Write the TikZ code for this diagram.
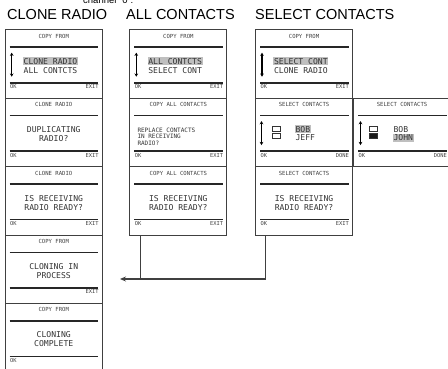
\documentclass[tikz,border=0pt]{standalone}
\usepackage{fontspec}
\setmainfont{Liberation Sans}
\newfontfamily\lcdfont{DejaVu Sans Mono}
\usetikzlibrary{arrows.meta}

\tikzset{
  screen/.style={draw=black!75, line width=1.1pt, minimum width=97pt,
    minimum height=68.4pt, anchor=north west, inner sep=0pt},
  lcdrule/.style={line width=1.6pt, black!85},
  lcdtitle/.style={font=\lcdfont\fontsize{5.6}{6.5}\selectfont, text=black!75,
    inner sep=0pt, text height=4pt, text depth=0pt},
  softkey/.style={font=\lcdfont\fontsize{5.4}{6.5}\selectfont, text=black!75,
    inner sep=0pt, text height=3.9pt, text depth=0pt},
  lcdtext/.style={font=\lcdfont\fontsize{8.1}{9}\selectfont, text=black!80,
    inner xsep=0.8pt, inner ysep=1pt, text height=5.9pt, text depth=0pt},
  smalltext/.style={font=\lcdfont\fontsize{6}{7}\selectfont, text=black!80,
    inner sep=0pt, text height=4.4pt, text depth=0pt, anchor=west},
  sel/.style={fill=black!25},
  updown/.style={line width=1.1pt,
    {Stealth[length=3.2pt,width=3.6pt]}-{Stealth[length=3.2pt,width=3.6pt]}},
  tickbox/.style={draw=black!80, line width=0.7pt, minimum width=8pt,
    minimum height=5pt, inner sep=0pt, anchor=north west},
  heading/.style={font=\fontsize{14.5}{16}\selectfont, inner sep=0pt, anchor=base west},
  conn/.style={draw=black!75, line width=1.1pt},
}

% screen frame: name, left, top, title
\newcommand{\lcdscreen}[4]{%
  \node[screen] (#1) at (#2,#3) {};
  \node[lcdtitle] (#1-title) at ([yshift=-7pt]#1.north) {#4};
  \draw[lcdrule] ([xshift=5pt,yshift=-18pt]#1.north west) -- ([xshift=-4.5pt,yshift=-18pt]#1.north east);
  \draw[lcdrule] ([xshift=5pt,yshift=-53.5pt]#1.north west) -- ([xshift=-4.5pt,yshift=-53.5pt]#1.north east);
}
\newcommand{\leftkey}[2]{%
  \node[softkey,anchor=west] (#1-lk) at ([xshift=5.3pt,yshift=-57.4pt]#1.north west) {#2};}
\newcommand{\rightkey}[2]{%
  \node[softkey,anchor=east] (#1-rk) at ([xshift=-4pt,yshift=-57.4pt]#1.north east) {#2};}
% centred message on two lines
\newcommand{\lcdmsg}[3]{%
  \node[lcdtext] (#1-l1) at ([yshift=-32pt]#1.north) {#2};
  \node[lcdtext] (#1-l2) at ([yshift=-41pt]#1.north) {#3};}
% scroll menu: selected item, other item
\newcommand{\lcdmenu}[3]{%
  \draw[updown] ([xshift=7pt,yshift=-23.4pt]#1.north west) -- ([xshift=7pt,yshift=-47.4pt]#1.north west);
  \node[lcdtext,sel,anchor=west] (#1-l1) at ([xshift=18pt,yshift=-32pt]#1.north west) {#2};
  \node[lcdtext,anchor=west] (#1-l2) at ([xshift=18pt,yshift=-41pt]#1.north west) {#3};}

\begin{document}
\begin{tikzpicture}[x=1pt,y=-1pt]
\useasboundingbox (0,0) rectangle (448,369);
\clip (0,0) rectangle (448,369);

% headings
\node[heading,font=\fontsize{9.5}{11}\selectfont] (prev) at (83,4) {channel “0”.};
\node[heading] (hclone) at (7,20) {CLONE RADIO};
\node[heading] (hall) at (126,20) {ALL CONTACTS};
\node[heading] (hsel) at (255,20) {SELECT CONTACTS};

% clone radio
\lcdscreen{c1r1}{4.7}{29.3}{COPY FROM}
\lcdmenu{c1r1}{CLONE RADIO}{ALL CONTCTS}
\leftkey{c1r1}{OK}\rightkey{c1r1}{EXIT}

\lcdscreen{c1r2}{4.7}{97.7}{CLONE RADIO}
\lcdmsg{c1r2}{DUPLICATING}{RADIO?}
\leftkey{c1r2}{OK}\rightkey{c1r2}{EXIT}

\lcdscreen{c1r3}{4.7}{166.1}{CLONE RADIO}
\lcdmsg{c1r3}{IS RECEIVING}{RADIO READY?}
\leftkey{c1r3}{OK}\rightkey{c1r3}{EXIT}

\lcdscreen{c1r4}{4.7}{234.5}{COPY FROM}
\lcdmsg{c1r4}{CLONING IN}{PROCESS}
\rightkey{c1r4}{EXIT}

\lcdscreen{c1r5}{4.7}{302.9}{COPY FROM}
\lcdmsg{c1r5}{CLONING}{COMPLETE}
\leftkey{c1r5}{OK}

% all contacts
\lcdscreen{c2r1}{129.3}{29.3}{COPY FROM}
\lcdmenu{c2r1}{ALL CONTCTS}{SELECT CONT}
\leftkey{c2r1}{OK}\rightkey{c2r1}{EXIT}

\lcdscreen{c2r2}{129.3}{97.7}{COPY ALL CONTACTS}
\node[smalltext] (c2r2-l1) at ([xshift=8pt,yshift=-32.3pt]c2r2.north west) {REPLACE CONTACTS};
\node[smalltext] (c2r2-l2) at ([xshift=8pt,yshift=-39pt]c2r2.north west) {IN RECEIVING};
\node[smalltext] (c2r2-l3) at ([xshift=8pt,yshift=-45.6pt]c2r2.north west) {RADIO?};
\leftkey{c2r2}{OK}\rightkey{c2r2}{EXIT}

\lcdscreen{c2r3}{129.3}{166.1}{COPY ALL CONTACTS}
\lcdmsg{c2r3}{IS RECEIVING}{RADIO READY?}
\leftkey{c2r3}{OK}\rightkey{c2r3}{EXIT}

% select contacts
\lcdscreen{c3r1}{255}{29.3}{COPY FROM}
\lcdmenu{c3r1}{SELECT CONT}{CLONE RADIO}
\leftkey{c3r1}{OK}\rightkey{c3r1}{EXIT}

\lcdscreen{c3r2}{255}{97.7}{SELECT CONTACTS}
\draw[updown] ([xshift=6.5pt,yshift=-23.4pt]c3r2.north west) -- ([xshift=6.5pt,yshift=-47.4pt]c3r2.north west);
\node[tickbox] (c3r2-b1) at ([xshift=16.5pt,yshift=-28pt]c3r2.north west) {};
\node[tickbox] (c3r2-b2) at ([xshift=16.5pt,yshift=-35.5pt]c3r2.north west) {};
\node[lcdtext,sel,anchor=west] (c3r2-l1) at ([xshift=39.5pt,yshift=-31.5pt]c3r2.north west) {BOB};
\node[lcdtext,anchor=west] (c3r2-l2) at ([xshift=39.5pt,yshift=-40pt]c3r2.north west) {JEFF};
\leftkey{c3r2}{OK}\rightkey{c3r2}{DONE}

\lcdscreen{c3r3}{255}{166.1}{SELECT CONTACTS}
\lcdmsg{c3r3}{IS RECEIVING}{RADIO READY?}
\leftkey{c3r3}{OK}\rightkey{c3r3}{EXIT}

\lcdscreen{c4r2}{353}{97.7}{SELECT CONTACTS}
\draw[updown] ([xshift=7.5pt,yshift=-23.4pt]c4r2.north west) -- ([xshift=7.5pt,yshift=-47.4pt]c4r2.north west);
\node[tickbox] (c4r2-b1) at ([xshift=15.5pt,yshift=-28pt]c4r2.north west) {};
\node[tickbox,fill=black!90] (c4r2-b2) at ([xshift=15.5pt,yshift=-35.5pt]c4r2.north west) {};
\node[lcdtext,anchor=west] (c4r2-l1) at ([xshift=39.5pt,yshift=-31.5pt]c4r2.north west) {BOB};
\node[lcdtext,sel,anchor=west] (c4r2-l2) at ([xshift=39.5pt,yshift=-40pt]c4r2.north west) {JOHN};
\leftkey{c4r2}{OK}\rightkey{c4r2}{DONE}

% back to cloning
\coordinate (tip) at (120,279);
\coordinate (drop2) at ([xshift=11.4pt]c2r3.south west);
\coordinate (drop3) at ([xshift=10.7pt]c3r3.south west);
\draw[conn] (drop2) -- (drop2 |- tip);
\draw[conn,-{Stealth[length=6pt,width=5pt]}] (drop3) |- (tip);
\end{tikzpicture}
\end{document}
